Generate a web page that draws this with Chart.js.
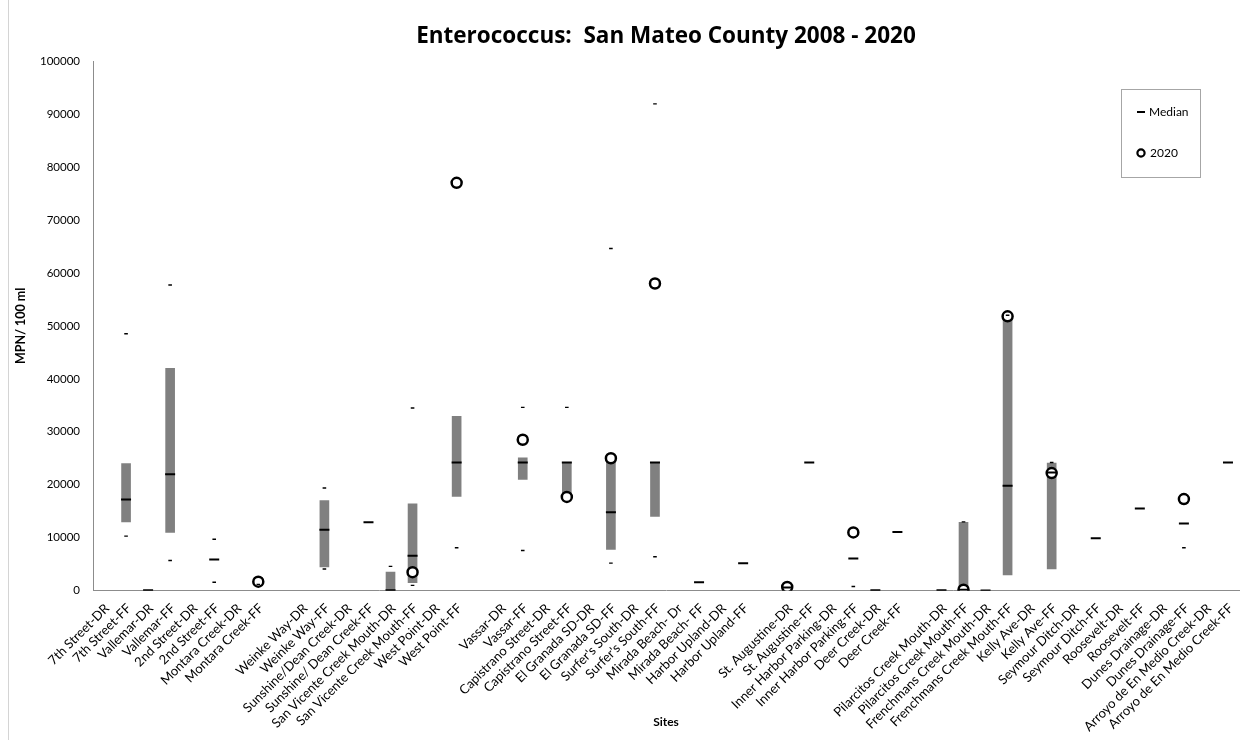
<!DOCTYPE html>
<html><head><meta charset="utf-8">
<script src="https://cdn.jsdelivr.net/npm/chart.js@4.4.0/dist/chart.umd.min.js"></script>
<style>html,body{margin:0;padding:0;background:#fff;}#wrap{width:1252px;height:740px;position:relative;}</style>
</head><body><div id="wrap"><canvas id="c" width="1252" height="740"></canvas></div>
<script>
const N = null;
const categories = [
  "7th Street-DR","7th Street-FF","Vallemar-DR","Vallemar-FF","2nd Street-DR","2nd Street-FF","Montara Creek-DR","Montara Creek-FF","","Weinke Way-DR",
  "Weinke Way-FF","Sunshine/Dean Creek-DR","Sunshine/ Dean Creek-FF","San Vicente Creek Mouth-DR","San Vicente Creek Mouth-FF","West Point-DR","West Point-FF","","Vassar-DR","Vassar-FF",
  "Capistrano Street-DR","Capistrano Street-FF","El Granada SD-DR","El Granada SD-FF","Surfer's South-DR","Surfer's South-FF","Mirada Beach- Dr","Mirada Beach- FF","Harbor Upland-DR","Harbor Upland-FF",
  "","St. Augustine-DR","St. Augustine-FF","Inner Harbor Parking-DR","Inner Harbor Parking-FF","Deer Creek-DR","Deer Creek-FF","","Pilarcitos Creek Mouth-DR","Pilarcitos Creek Mouth-FF",
  "Frenchmans Creek Mouth-DR","Frenchmans Creek Mouth-FF","Kelly Ave-DR","Kelly Ave-FF","Seymour Ditch-DR","Seymour Ditch-FF","Roosevelt-DR","Roosevelt-FF","Dunes Drainage-DR","Dunes Drainage-FF",
  "Arroyo de En Medio Creek-DR","Arroyo de En Medio Creek-FF"
];
const rangeLow = [
  N,13000,N,11000,N,N,N,N,N,N,
  4500,N,N,0,1500,N,17800,N,N,21000,
  N,17700,N,7800,N,14000,N,N,N,N,
  N,N,N,N,N,N,N,N,N,0,
  N,3000,N,4100,N,N,N,N,N,N,
  N,N
];
const rangeHigh = [
  N,24000,N,42000,N,N,N,N,N,N,
  17000,N,N,3500,16400,N,32900,N,N,25100,
  N,24200,N,25000,N,24200,N,N,N,N,
  N,N,N,N,N,N,N,N,N,12900,
  N,52000,N,24100,N,N,N,N,N,N,
  N,N
];
const median = [
  N,17200,100,22000,N,5900,N,N,N,N,
  11500,N,12900,100,6600,N,24200,N,N,24200,
  N,24200,N,14800,N,24200,N,1600,N,5200,
  N,600,24200,N,6100,100,11100,N,100,200,
  50,19800,N,22300,N,9900,N,15500,N,12700,
  N,24200
];
const y2020 = [
  N,N,N,N,N,N,N,1700,N,N,
  N,N,N,N,3500,N,77000,N,N,28500,
  N,17700,N,25000,N,58000,N,N,N,N,
  N,700,N,N,11000,N,N,N,N,200,
  N,51800,N,22200,N,N,N,N,N,17300,
  N,N
];
const markHigh = [
  N,48500,N,57700,N,9700,N,N,N,N,
  19400,N,N,4600,34500,N,N,N,N,34600,
  N,34600,N,64600,N,91900,N,N,N,N,
  N,N,N,N,N,N,N,N,N,13000,
  N,52000,N,24200,N,N,N,N,N,N,
  N,N
];
const markLow = [
  N,10300,N,5700,N,1600,N,1200,N,N,
  4100,N,N,N,1000,N,8100,N,N,7600,
  N,N,N,5200,N,6400,N,N,N,N,
  N,N,N,N,800,N,N,N,N,N,
  N,N,N,N,N,N,N,N,N,8100,
  N,N
];
const yTicks = [0,10000,20000,30000,40000,50000,60000,70000,80000,90000,100000];

const FONT = 'Lato, "Open Sans", "DejaVu Sans", sans-serif';
Chart.defaults.font.family = FONT;
Chart.defaults.color = '#000';

const legendPlugin = {
  id: 'customLegend',
  afterDraw(chart) {
    const ctx = chart.ctx;
    ctx.save();
    ctx.strokeStyle = '#d4d4d4'; ctx.lineWidth = 1;
    ctx.beginPath(); ctx.moveTo(8.5, 0); ctx.lineTo(8.5, 740); ctx.stroke();
    ctx.strokeStyle = '#a6a6a6'; ctx.lineWidth = 1;
    ctx.strokeRect(1121.5, 89.5, 79, 88);
    ctx.strokeStyle = '#000'; ctx.lineWidth = 2;
    ctx.beginPath(); ctx.moveTo(1137, 112); ctx.lineTo(1145, 112); ctx.stroke();
    ctx.lineWidth = 2.2;
    ctx.beginPath(); ctx.arc(1141, 153, 3.6, 0, Math.PI*2); ctx.fillStyle='#fff'; ctx.fill(); ctx.stroke();
    ctx.fillStyle = '#000'; ctx.font = '12px ' + FONT; ctx.textAlign = 'left'; ctx.textBaseline = 'middle';
    ctx.fillText('Median', 1149, 112);
    ctx.fillText('2020', 1150, 153);
    ctx.restore();
  }
};

new Chart(document.getElementById('c'), {
  type: 'bar',
  data: {
    labels: categories,
    datasets: [
      { label: 'Range', type: 'bar', data: rangeLow.map((v,i) => v == null ? null : [v, rangeHigh[i]]),
        backgroundColor: '#808080', barThickness: 9, order: 4 },
      { label: '2020', type: 'line', data: y2020, showLine: false, pointStyle: 'circle', pointRadius: 5,
        pointBorderWidth: 2.5, pointBorderColor: '#000', pointBackgroundColor: '#fff', borderColor: '#000', backgroundColor: '#fff', order: 2 },
      { label: 'Median', type: 'line', data: median, showLine: false, pointStyle: 'line', pointRadius: 5,
        pointBorderWidth: 2, pointBorderColor: '#000', borderColor: '#000', order: 1 },
      { label: 'High', type: 'line', data: markHigh, showLine: false, pointStyle: 'line', pointRadius: 1.8,
        pointBorderWidth: 1.4, pointBorderColor: '#000', borderColor: '#000', order: 0 },
      { label: 'Low', type: 'line', data: markLow, showLine: false, pointStyle: 'line', pointRadius: 1.8,
        pointBorderWidth: 1.4, pointBorderColor: '#000', borderColor: '#000', order: 0 }
    ]
  },
  options: {
    responsive: false,
    animation: false,
    layout: { padding: { top: 14, right: 13, bottom: 0, left: 0 } },
    plugins: {
      legend: { display: false },
      tooltip: { enabled: false },
      title: { display: true, fullSize: false, text: 'Enterococcus:  San Mateo County 2008 - 2020',
        font: { size: 22.5, weight: 'bold', family: '"Open Sans", Lato, sans-serif' }, padding: { top: 9, bottom: 11 }, color: '#000' }
    },
    scales: {
      x: {
        offset: true,
        grid: { display: false, drawTicks: false },
        border: { display: true, color: '#8c8c8c', width: 1 },
        ticks: { autoSkip: false, minRotation: 45, maxRotation: 45, padding: 10, labelOffset: 3, font: { size: 13 } },
        title: { display: true, text: 'Sites', font: { size: 12, weight: 'bold' }, padding: { top: 4, bottom: 11 } },
        afterFit(s) { s.height = 149.3; }
      },
      y: {
        min: 0, max: 100000,
        grid: { display: false, drawTicks: false },
        border: { display: true, color: '#8c8c8c', width: 1 },
        afterBuildTicks(s) { s.ticks = yTicks.map(v => ({ value: v })); },
        ticks: { padding: 13, font: { size: 11.5 }, callback: v => String(v) },
        title: { display: true, text: 'MPN/ 100 ml', font: { size: 12.5, weight: 'bold' }, padding: { top: 13, bottom: 0 } },
        afterFit(s) { s.width = 93; }
      }
    }
  },
  plugins: [legendPlugin]
});
</script>
</body></html>
